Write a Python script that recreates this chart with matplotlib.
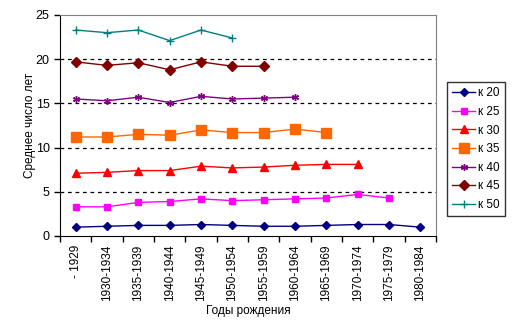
import matplotlib
matplotlib.use("Agg")
import matplotlib.pyplot as plt
import numpy as np

plt.rcParams["font.family"] = ["Liberation Sans", "DejaVu Sans"]

# годы рождения (когорты)
cohorts = ["- 1929", "1930-1934", "1935-1939", "1940-1944", "1945-1949",
           "1950-1954", "1955-1959", "1960-1964", "1965-1969", "1970-1974",
           "1975-1979", "1980-1984"]

# среднее число лет к возрасту 20..50
k20 = [1.0, 1.1, 1.2, 1.2, 1.3, 1.2, 1.1, 1.1, 1.2, 1.3, 1.3, 1.0]
k25 = [3.3, 3.3, 3.8, 3.9, 4.2, 4.0, 4.1, 4.2, 4.3, 4.7, 4.3]
k30 = [7.1, 7.2, 7.4, 7.4, 7.9, 7.7, 7.8, 8.0, 8.1, 8.1]
k35 = [11.2, 11.2, 11.5, 11.4, 12.0, 11.7, 11.7, 12.1, 11.7]
k40 = [15.5, 15.3, 15.7, 15.1, 15.8, 15.5, 15.6, 15.7]
k45 = [19.7, 19.3, 19.6, 18.8, 19.7, 19.2, 19.2]
k50 = [23.3, 23.0, 23.3, 22.1, 23.3, 22.4]

series = [
    ("к 20", k20, "#000080", "D", 4.5, {}),
    ("к 25", k25, "#FF00FF", "s", 5, {}),
    ("к 30", k30, "#FF0000", "^", 6, {}),
    ("к 35", k35, "#FF6600", "s", 7.2, {}),
    ("к 40", k40, "#800080", (6, 2, 0), 5, {"markeredgewidth": 1}),
    ("к 45", k45, "#800000", "D", 5, {}),
    ("к 50", k50, "#008080", "+", 6, {"markeredgewidth": 1}),
]

fig = plt.figure(figsize=(5.14, 3.35), dpi=100)
ax = fig.add_axes([60 / 514, 1 - 236 / 335, 376 / 514, 221 / 335])

for name, vals, color, marker, ms, extra in series:
    ax.plot(np.arange(len(vals)), vals, color=color, linewidth=1.0,
            marker=marker, markersize=ms, markerfacecolor=color,
            markeredgecolor=color, label=name, **extra)

ax.set_xlim(-0.5, len(cohorts) - 0.5)
ax.set_ylim(0, 25)
ax.set_yticks(range(0, 26, 5))
for y in range(5, 25, 5):
    ax.axhline(y, color="black", linestyle=(0, (3, 3)), linewidth=0.9, zorder=0)

# подписи по центрам категорий, засечки на границах
ax.set_xticks(np.arange(len(cohorts)))
ax.set_xticklabels(cohorts, rotation=90, fontsize=8.5)
ax.set_xticks(np.arange(len(cohorts) + 1) - 0.5, minor=True)
ax.tick_params(axis="x", which="major", length=0, pad=6)
ax.tick_params(axis="x", which="minor", length=4, width=1, direction="out")
ax.tick_params(axis="y", length=4, width=1, labelsize=9, direction="out")

ax.spines["left"].set_color("black")
ax.spines["bottom"].set_color("black")
ax.spines["top"].set_color("#808080")
ax.spines["right"].set_color("#808080")

ax.set_ylabel("Среднее число лет", fontsize=8.5, labelpad=0)
ax.set_xlabel("Годы рождения", fontsize=8.5, labelpad=3)

leg = fig.legend(loc="upper left", bbox_to_anchor=(447 / 514, 1 - 82 / 335),
                 fontsize=8.5, frameon=True, fancybox=False, edgecolor="black",
                 handlelength=1.9, borderpad=0.45, labelspacing=0.56,
                 handletextpad=0.3, borderaxespad=0)
leg.get_frame().set_linewidth(1.0)

fig.savefig("out.png", dpi=100)
